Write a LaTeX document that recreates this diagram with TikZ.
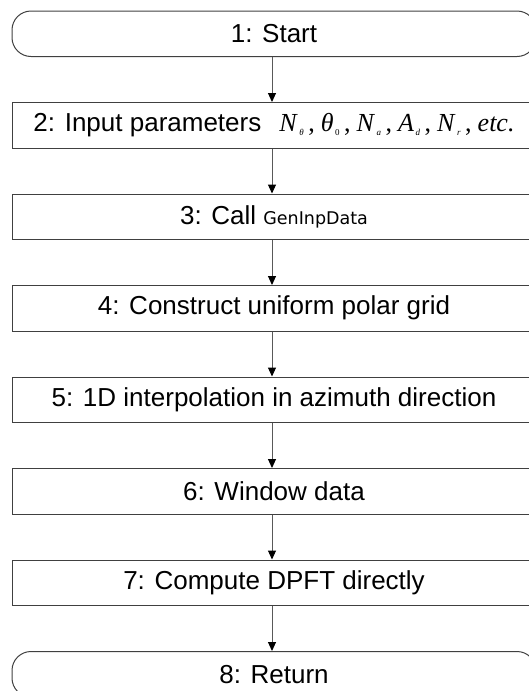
\documentclass[tikz,border=0pt]{standalone}
\usepackage{fontspec}
\setmainfont{Liberation Sans}
\newfontfamily\tms{Liberation Serif}
\newfontfamily\codefont{DejaVu Sans}
\usetikzlibrary{arrows.meta}
% italic symbol followed by a small lowered subscript and a comma
\newcommand\symsub[2]{\textit{#1}\kern1.5pt\raisebox{-4pt}{\fontsize{9}{9}\selectfont #2}\kern4.5pt,\kern6pt}
\begin{document}
\begin{tikzpicture}[x=1pt,y=-1pt,
  stepbox/.style={draw=black!75, line width=1pt, minimum width=524pt,
    minimum height=45.5pt, inner sep=0pt, font=\fontsize{26}{28}\selectfont},
  termbox/.style={stepbox, rounded corners=19pt},
  flow/.style={draw=black!65, line width=1pt,
    -{Triangle[length=9pt,width=8pt,color=black]}}]
\useasboundingbox (0,0) rectangle (528,691);
\coordinate (ax) at (272,0);
\node[termbox] (s1) at (274,33.75)  {1: Start};
\node[stepbox] (s2) at (274,125.25) {2: Input parameters\hspace{18pt}{\tms\fontsize{26}{28}\selectfont
  \symsub{N}{\textit{θ}}\symsub{θ}{0}\symsub{N}{\textit{a}}\symsub{A}{\textit{d}}\symsub{N}{\textit{r}}\textit{etc.}}};
\node[stepbox] (s3) at (274,216.75) {3: Call {\codefont\fontsize{17.5}{20}\selectfont GenInpData}};
\node[stepbox] (s4) at (274,308.25) {4: Construct uniform polar grid};
\node[stepbox] (s5) at (274,399.75) {5: 1D interpolation in azimuth direction};
\node[stepbox] (s6) at (274,491.25) {6: Window data};
\node[stepbox] (s7) at (274,582.75) {7: Compute DPFT directly};
\node[termbox] (s8) at (274,674.25) {8: Return};
\foreach \a/\b in {s1/s2,s2/s3,s3/s4,s4/s5,s5/s6,s6/s7,s7/s8}
  \draw[flow] (\a.south -| ax) -- (\b.north -| ax);
\end{tikzpicture}
\end{document}
